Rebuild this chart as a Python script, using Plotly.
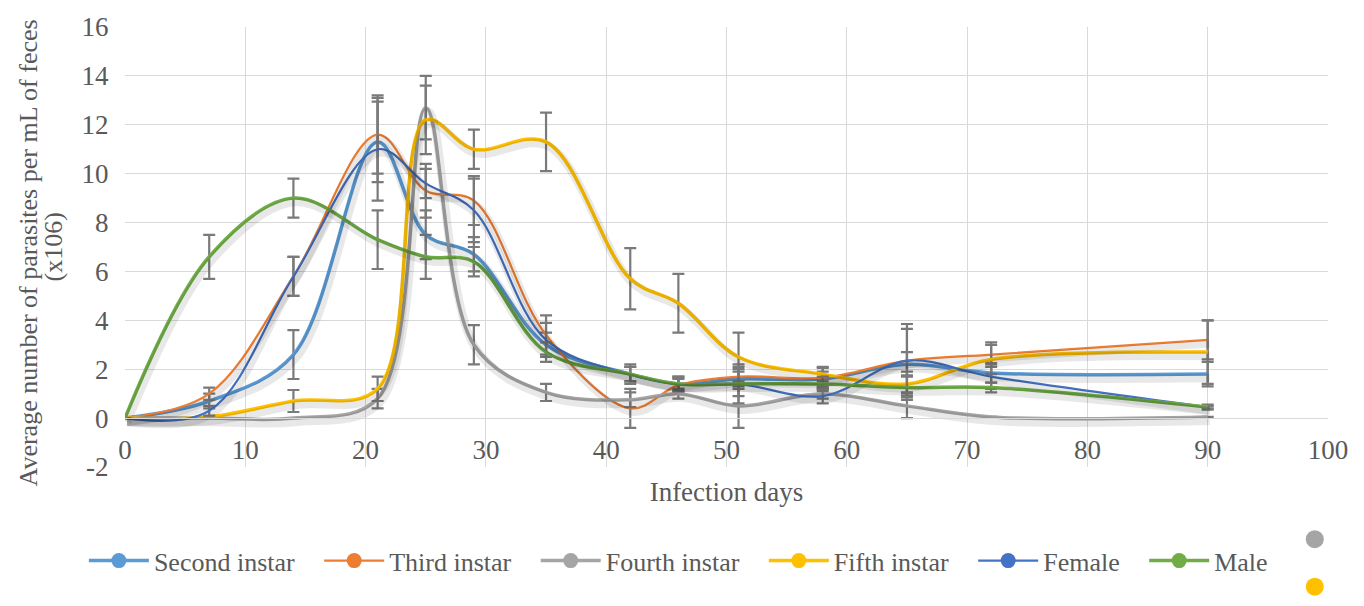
import plotly.graph_objects as go

days = [0, 7, 14, 21, 25, 29, 35, 42, 46, 51, 58, 65, 72, 90]

series_names = ["Second instar", "Third instar", "Fourth instar", "Fifth instar", "Female", "Male"]

second = [0, 0.7, 2.6, 11.3, 7.5, 6.7, 3.0, 1.8, 1.4, 1.6, 1.6, 2.2, 1.85, 1.8]
third = [0, 1.0, 5.8, 11.6, 9.3, 8.9, 3.4, 0.4, 1.35, 1.7, 1.65, 2.35, 2.6, 3.2]
fourth = [0, 0.0, 0.0, 0.8, 12.7, 3.0, 1.05, 0.75, 1.0, 0.5, 1.0, 0.5, 0.05, 0.05]
fifth = [0, 0.05, 0.7, 1.2, 12.2, 11.0, 11.3, 5.7, 4.7, 2.5, 1.8, 1.4, 2.4, 2.7]
female = [0, 0.3, 5.8, 11.0, 9.6, 8.5, 3.2, 1.8, 1.4, 1.4, 0.9, 2.35, 1.7, 0.45]
male = [0, 6.6, 9.0, 7.3, 6.6, 6.4, 2.7, 1.8, 1.4, 1.4, 1.4, 1.25, 1.25, 0.45]

err_second = [0, 0.3, 1.0, 1.65, 1.0, 0.7, 0.5, 0.4, 0.2, 0.4, 0.3, 0.5, 0.4, 0.5]
err_third = [0, 0.25, 0.8, 1.6, 1.1, 1.0, 0.8, 0.8, 0.3, 0.4, 0.4, 1.5, 0.5, 0.8]
err_fourth = [0, 0, 0, 0.4, 1.3, 0.8, 0.35, 0.3, 0.2, 0.9, 0.2, 0.5, 0, 0]
err_fifth = [0, 0, 0.45, 0.5, 1.4, 0.8, 1.2, 1.25, 1.2, 1.0, 0.3, 0.5, 0.6, 1.3]
err_female = [0, 0.2, 0.8, 2.1, 0.6, 1.3, 0.7, 0.3, 0.3, 0.8, 0.3, 1.3, 0.5, 0.05]
err_male = [0, 0.9, 0.8, 1.2, 0.9, 0.6, 0.4, 0.3, 0.3, 0.5, 0.3, 0.5, 0.2, 0.1]

y_ticks = [-2, 0, 2, 4, 6, 8, 10, 12, 14, 16]
y_tick_labels = ["-2", "0", "2", "4", "6", "8", "10", "12", "14", "16"]

values = [second, third, fourth, fifth, female, male]
errors = [err_second, err_third, err_fourth, err_fifth, err_female, err_male]
colors = ["#5B9BD5", "#ED7D31", "#A5A5A5", "#FFC000", "#4472C4", "#70AD47"]
widths = [3.5, 2.2, 3.5, 3.5, 2.2, 3.5]

FONT = "Liberation Serif"
FS = 27
TXT = "#595959"
PAD = "\u00a0" * 3

fig = go.Figure()

# soft drop shadows (same data on a slightly shifted overlay axis)
for v, w in zip(values, widths):
    fig.add_trace(go.Scatter(
        x=days, y=v, mode="lines", xaxis="x2", yaxis="y2",
        line=dict(color="rgba(0,0,0,0.09)", width=w + 5, shape="spline", smoothing=1.0),
        hoverinfo="skip", showlegend=False))

for name, v, e, c, w in zip(series_names, values, errors, colors, widths):
    fig.add_trace(go.Scatter(
        x=days, y=v, mode="lines", name=name,
        line=dict(color=c, width=w, shape="spline", smoothing=1.0),
        error_y=dict(type="data", array=e, visible=True, color="#7a7a7a",
                     thickness=2.2, width=6),
        showlegend=False))

# legend entries (line + marker glyph)
for i, (name, c, w) in enumerate(zip(series_names, colors, widths)):
    label = name + (PAD if i < len(series_names) - 1 else "")
    fig.add_trace(go.Scatter(
        x=[None], y=[None], mode="lines+markers", name=label,
        line=dict(color=c, width=w), marker=dict(color=c, size=15)))

dx = 2 * 100 / 1203
dy = 4 * 18 / 445

fig.update_layout(
    width=1364, height=606,
    margin=dict(l=125, r=36, t=22, b=139),
    paper_bgcolor="white", plot_bgcolor="white",
    font=dict(family=FONT, color=TXT, size=FS),
    xaxis=dict(range=[0, 100], dtick=10, showgrid=True, gridcolor="#d9d9d9", gridwidth=1.4,
               anchor="free", position=2 / 18, showline=True, linecolor="#d9d9d9",
               zeroline=False, ticks="outside", ticklen=7, tickcolor="rgba(0,0,0,0)",
               tickfont=dict(family=FONT, size=FS, color=TXT),
               title=dict(text="Infection days", font=dict(family=FONT, size=FS, color=TXT),
                          standoff=18)),
    yaxis=dict(range=[-2, 16], tickvals=y_ticks, ticktext=y_tick_labels, showgrid=True,
               gridcolor="#d9d9d9", gridwidth=1.4,
               zeroline=False, ticks="outside", ticklen=10, tickcolor="rgba(0,0,0,0)",
               tickfont=dict(family=FONT, size=FS, color=TXT)),
    xaxis2=dict(range=[0 - dx, 100 - dx], overlaying="x", visible=False, anchor="y2"),
    yaxis2=dict(range=[-2 + dy, 16 + dy], overlaying="y", visible=False, anchor="x2"),
    legend=dict(orientation="h", x=0.46, xanchor="center", y=-0.213, yanchor="middle",
                font=dict(family=FONT, size=26, color=TXT), itemwidth=60, tracegroupgap=0,
                bgcolor="rgba(0,0,0,0)"),
    showlegend=True,
)

# y-axis title as two rotated lines
fig.add_annotation(text="Average number of parasites per mL of feces", xref="paper", yref="paper",
                   x=(28 - 125) / 1203, y=(467 - 251) / 445, textangle=-90, showarrow=False,
                   xanchor="center", yanchor="middle", font=dict(family=FONT, size=26, color=TXT))
fig.add_annotation(text="(x106)", xref="paper", yref="paper",
                   x=(53 - 125) / 1203, y=(467 - 245) / 445, textangle=-90, showarrow=False,
                   xanchor="center", yanchor="middle", font=dict(family=FONT, size=26, color=TXT))

# partially visible extra legend glyphs at the right edge
for yy, c in [(-0.164, "#A5A5A5"), (-0.272, "#FFC000")]:
    fig.add_shape(type="circle", xref="paper", yref="paper",
                  xsizemode="pixel", ysizemode="pixel", xanchor=0.989, yanchor=yy,
                  x0=-9, x1=9, y0=-9, y1=9, fillcolor=c, line=dict(width=0))

fig.write_html("out.html")
